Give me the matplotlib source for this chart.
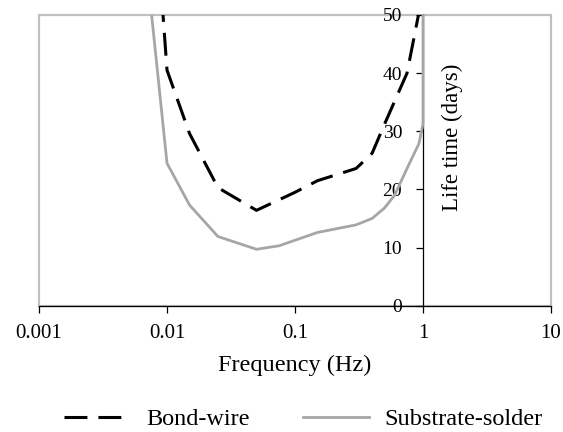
import matplotlib
matplotlib.use("Agg")
import matplotlib.pyplot as plt
from matplotlib.patches import Rectangle
from matplotlib.ticker import FixedLocator, FixedFormatter, NullLocator

plt.rcParams['font.family'] = ['Liberation Serif', 'DejaVu Serif']
plt.rcParams['font.size'] = 17.5

# data
bond_freq = [0.008, 0.01, 0.015, 0.025, 0.05, 0.1, 0.15, 0.3, 0.4, 0.5, 0.75, 1.0]
bond_life = [70, 40.5, 29.6, 20.3, 16.4, 19.5, 21.5, 23.6, 26.2, 31.2, 40, 54]

solder_freq = [0.0075, 0.01, 0.015, 0.025, 0.05, 0.075, 0.15, 0.3, 0.4, 0.5, 0.6, 0.75, 0.93, 1.0, 1.0]
solder_life = [51, 24.5, 17.3, 11.9, 9.7, 10.3, 12.6, 13.9, 15.0, 16.8, 19.0, 23.6, 27.9, 31.3, 60]

x_ticks = [0.001, 0.01, 0.1, 1, 10]
x_labels = ["0.001", "0.01", "0.1", "1", "10"]
y_ticks = [0, 10, 20, 30, 40, 50]

fig = plt.figure(figsize=(5.63, 4.32), dpi=100)
ax = fig.add_axes([0.0693, 0.2924, 0.9094, 0.6729])

ax.plot(bond_freq, bond_life, color='black', lw=2.2, dashes=(7.5, 3.6),
        label='Bond-wire', zorder=3.5)
ax.plot(solder_freq, solder_life, color='#a6a6a6', lw=2.0,
        label='Substrate-solder', zorder=3)

ax.set_xscale('log')
ax.set_xlim(0.001, 10)
ax.set_ylim(0, 50)

ax.xaxis.set_major_locator(FixedLocator(x_ticks))
ax.xaxis.set_major_formatter(FixedFormatter(x_labels))
ax.xaxis.set_minor_locator(NullLocator())
ax.set_yticks(y_ticks)

# grey plot-area frame
ax.add_patch(Rectangle((0, 0), 1, 1, transform=ax.transAxes, fill=False,
                       edgecolor='#c0c0c0', lw=1.6, zorder=0, clip_on=False))
ax.spines['top'].set_visible(False)
ax.spines['right'].set_visible(False)
ax.spines['left'].set_position(('data', 1))
ax.spines['left'].set_color('black')
ax.spines['left'].set_linewidth(0.9)
ax.spines['left'].set_zorder(1.5)
ax.spines['bottom'].set_linewidth(0.9)
ax.spines['bottom'].set_zorder(4)

ax.tick_params(axis='x', direction='out', length=5, width=0.9, pad=8.5,
               labelsize=15)
ax.tick_params(axis='y', direction='out', length=5, width=0.9, pad=10,
               labelsize=14)

ax.set_xlabel('Frequency (Hz)', labelpad=8)
ax.text(0.807, 0.58, 'Life time (days)', transform=ax.transAxes,
        rotation=90, ha='center', va='center', fontsize=16.5)

fig.legend(loc='center', bbox_to_anchor=(0.539, 0.03), ncol=2, frameon=False,
           handlelength=2.7, columnspacing=2.2, handletextpad=0.65)

fig.savefig('out.png', dpi=100)
